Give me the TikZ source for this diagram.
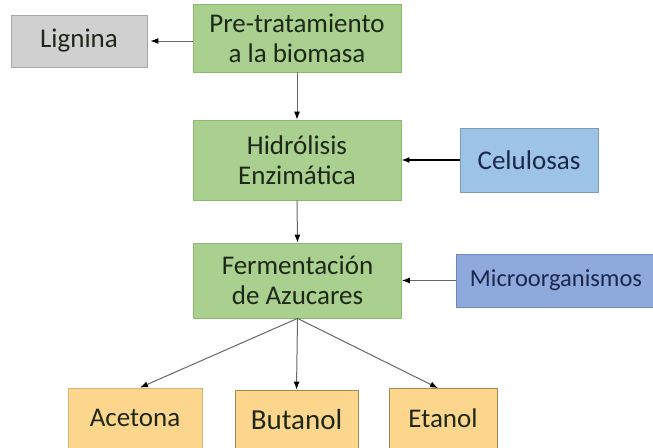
\documentclass[tikz,border=0pt]{standalone}
\usepackage{fontspec}
\setmainfont{Carlito}
\usetikzlibrary{arrows.meta}
\definecolor{mygreen}{RGB}{169, 208, 142}
\definecolor{mygreenb}{RGB}{140, 184, 112}
\definecolor{mygray}{RGB}{208, 208, 208}
\definecolor{myblue}{RGB}{157, 195, 230}
\definecolor{mybluedark}{RGB}{142, 169, 219}
\definecolor{myorange}{RGB}{252, 214, 140}
\definecolor{myorangeb}{RGB}{170, 135, 80}
\definecolor{mytext}{RGB}{30, 40, 25}
\definecolor{mynavy}{RGB}{28, 40, 75}

\begin{document}
\begin{tikzpicture}[x=1pt, y=-1pt,
    box/.style={draw, line width=0.8pt, align=center, inner sep=0pt,
      text=mytext, font=\fontsize{27}{30}\selectfont},
    paso/.style={box, fill=mygreen, draw=mygreenb, minimum width=208pt},
    salida/.style={box, fill=myorange, draw=myorangeb, minimum height=60pt},
    flecha/.style={-{Latex[length=8pt, width=6pt, color=black]},
      draw=black!60, line width=1pt}]
  \clip (0,0) rectangle (653,447);
  \fill[white] (0,0) rectangle (653,447);

  % pasos del proceso
  \node[paso, minimum height=68pt] (pre) at (297,38) {Pre-tratamiento\\a la biomasa};
  \node[paso, minimum height=80pt] (hid) at (297,160) {Hidrólisis\\Enzimática};
  \node[paso, minimum height=75pt] (fer) at (297.5,280.5) {Fermentación\\de Azucares};

  % entradas y salidas laterales
  \node[box, fill=mygray, draw=black!35, minimum width=136pt, minimum height=52pt] (lig) at (79,41) {Lignina};
  \node[box, fill=myblue, draw=myblue!80!black, text=mynavy, minimum width=138pt, minimum height=64pt] (cel) at (529,160) {Celulosas};
  \node[box, fill=mybluedark, draw=mybluedark!80!black, text=mynavy, minimum width=200pt, minimum height=53pt,
    font=\fontsize{24.5}{28}\selectfont] (mic) at (556,280.5) {Microorganismos};

  % productos
  \node[salida, draw=myorange!85!black, minimum width=134pt] (ace) at (135,418) {Acetona};
  \node[salida, minimum width=123pt, font=\fontsize{29}{32}\selectfont] (but) at (296.5,420) {Butanol};
  \node[salida, minimum width=108pt] (eta) at (443,418.5) {Etanol};

  \draw[flecha] (pre.west |- lig.east) -- ([xshift=3pt]lig.east);
  \draw[flecha] (pre.south) -- (hid.north);
  \draw[flecha, draw=black, line width=1.4pt] (cel.west) -- (hid.east);
  \draw[flecha] (hid.south) -- (fer.north);
  \draw[flecha] (mic.west) -- (fer.east);
  \draw[flecha] (fer.south) -- ([xshift=5pt]ace.north);
  \draw[flecha] (fer.south) -- (but.north);
  \draw[flecha] (fer.south) -- ([xshift=-5pt]eta.north);
\end{tikzpicture}
\end{document}
